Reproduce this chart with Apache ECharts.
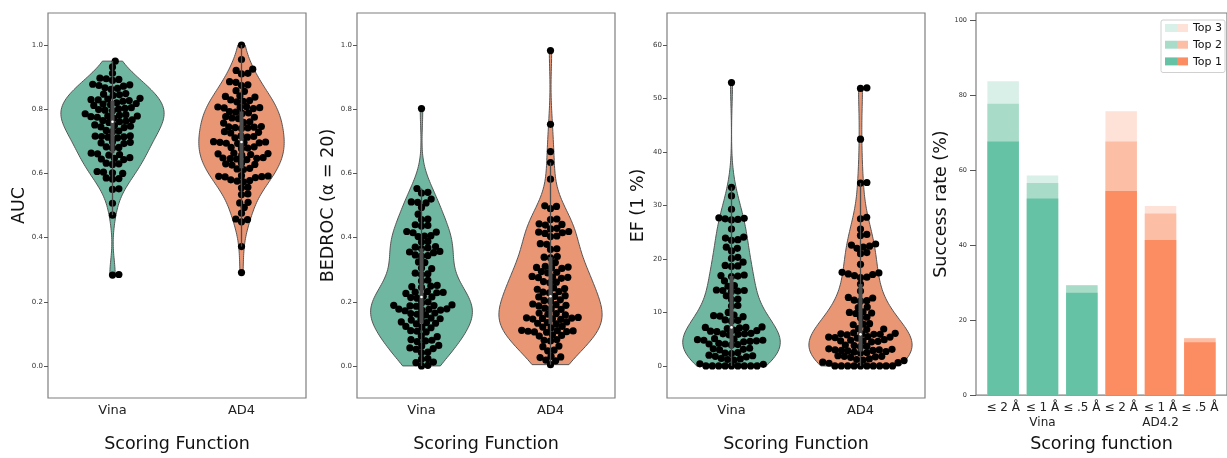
<!DOCTYPE html>
<html>
<head>
    <meta charset="UTF-8">
    <script src="https://cdn.jsdelivr.net/npm/echarts@6.0.0/dist/echarts.min.js"></script>
    <title>Scoring functions</title>
    <style>
        html, body { margin: 0; padding: 0; background: #fff; }
        #chart { width: 1227px; height: 458px; }
    </style>
</head>
<body>
<div id="chart"></div>
<script>
    // --- data ---
    const violinCats = ['Vina', 'AD4'];

    const aucVina = [0.950, 0.932, 0.912, 0.895, 0.893, 0.890, 0.897, 0.876, 0.874, 0.878, 0.872,
        0.865, 0.862, 0.867, 0.847, 0.845, 0.849, 0.843, 0.832, 0.829, 0.834, 0.827, 0.830, 0.825,
        0.818, 0.816, 0.820, 0.814, 0.812, 0.801, 0.799, 0.803, 0.797, 0.805, 0.795,
        0.783, 0.779, 0.777, 0.781, 0.775, 0.779, 0.786, 0.772, 0.763, 0.761, 0.765, 0.759, 0.767,
        0.747, 0.745, 0.749, 0.743, 0.751, 0.732, 0.730, 0.734, 0.715, 0.713, 0.717, 0.711, 0.716, 0.714,
        0.697, 0.695, 0.699, 0.693, 0.681, 0.679, 0.683, 0.661, 0.659, 0.663, 0.657,
        0.647, 0.645, 0.649, 0.643, 0.630, 0.628, 0.632,
        0.604, 0.602, 0.606, 0.600, 0.584, 0.582, 0.586,
        0.552, 0.550, 0.507, 0.470, 0.285, 0.283];
    const aucAd4 = [1.000, 0.955, 0.925, 0.921, 0.912, 0.910, 0.886, 0.884, 0.876, 0.874, 0.858, 0.856,
        0.840, 0.838, 0.842, 0.827, 0.825, 0.829, 0.823, 0.806, 0.804, 0.808, 0.802, 0.807, 0.805,
        0.791, 0.789, 0.793, 0.787, 0.775, 0.773, 0.777, 0.771, 0.759, 0.757, 0.761,
        0.744, 0.742, 0.746, 0.740, 0.745, 0.743, 0.728, 0.726, 0.730, 0.715, 0.713, 0.717, 0.711,
        0.697, 0.695, 0.699, 0.693, 0.698, 0.696, 0.694, 0.681, 0.679, 0.683, 0.677,
        0.661, 0.659, 0.663, 0.657, 0.662, 0.647, 0.645, 0.649, 0.643, 0.646, 0.648,
        0.630, 0.628, 0.632, 0.626, 0.614, 0.612, 0.616, 0.591, 0.589, 0.593, 0.587, 0.590, 0.592,
        0.578, 0.576, 0.580, 0.574, 0.557, 0.555, 0.536, 0.534, 0.510, 0.508, 0.494, 0.476,
        0.458, 0.456, 0.449, 0.372, 0.291];

    const bedrocVina = [0.802, 0.553, 0.541, 0.539, 0.520, 0.510, 0.508, 0.511, 0.494,
        0.473, 0.458, 0.456, 0.438, 0.436, 0.440, 0.417, 0.415, 0.419, 0.405, 0.403, 0.406,
        0.388, 0.386, 0.370, 0.368, 0.372, 0.366, 0.355, 0.353, 0.357, 0.344, 0.342, 0.346,
        0.324, 0.322, 0.305, 0.303, 0.287, 0.285, 0.289, 0.267, 0.265,
        0.249, 0.247, 0.251, 0.245, 0.230, 0.228, 0.232, 0.226, 0.229, 0.215, 0.213, 0.217, 0.211,
        0.199, 0.197, 0.189, 0.187, 0.186, 0.190, 0.188, 0.176, 0.174, 0.178, 0.172, 0.175, 0.177,
        0.163, 0.161, 0.165, 0.159, 0.147, 0.145, 0.149, 0.143, 0.135, 0.133, 0.137, 0.131,
        0.121, 0.119, 0.123, 0.108, 0.106, 0.110, 0.093, 0.091, 0.080, 0.078, 0.082, 0.076,
        0.064, 0.062, 0.054, 0.052, 0.056, 0.043, 0.041, 0.023, 0.021, 0.012, 0.010, 0.002, 0.000];
    const bedrocAd4 = [0.983, 0.753, 0.668, 0.634, 0.582, 0.499, 0.497, 0.490, 0.458, 0.456,
        0.443, 0.441, 0.439, 0.429, 0.427, 0.417, 0.415, 0.419, 0.413, 0.405, 0.403,
        0.381, 0.379, 0.365, 0.363, 0.339, 0.337, 0.341, 0.322, 0.308, 0.306, 0.310, 0.304, 0.307,
        0.292, 0.290, 0.294, 0.277, 0.275, 0.279, 0.273, 0.276, 0.261, 0.259, 0.263,
        0.241, 0.239, 0.243, 0.230, 0.228, 0.232, 0.217, 0.215, 0.219, 0.204, 0.202, 0.206,
        0.191, 0.189, 0.193, 0.187, 0.178, 0.176, 0.180, 0.163, 0.161, 0.165, 0.159,
        0.149, 0.147, 0.151, 0.145, 0.148, 0.150, 0.146, 0.135, 0.133, 0.137, 0.131,
        0.121, 0.119, 0.123, 0.109, 0.107, 0.111, 0.105, 0.108, 0.110, 0.106,
        0.095, 0.093, 0.097, 0.080, 0.078, 0.082, 0.062, 0.060, 0.049, 0.047,
        0.028, 0.026, 0.030, 0.018, 0.016, 0.004];

    const efVina = [53.0, 33.4, 31.8, 29.3, 27.5, 27.3, 27.6, 27.7, 27.4, 25.6,
        24.1, 23.9, 23.6, 23.5, 22.2, 22.0, 21.5, 20.3, 20.1, 19.4, 18.7, 18.6, 18.8,
        16.9, 16.8, 17.0, 16.7, 15.9, 15.0, 14.9, 14.1, 14.0, 14.2, 13.9, 14.1,
        13.1, 12.5, 12.4, 11.3, 11.2, 10.0, 9.4, 9.3, 9.5, 9.2, 8.5, 8.4, 8.6,
        7.2, 7.1, 7.3, 7.0, 7.2, 6.6, 6.5, 6.7, 6.4, 6.0, 5.9, 6.1, 5.8, 6.0,
        5.0, 4.9, 5.1, 4.8, 4.7, 4.6, 4.8, 4.5, 4.1, 4.0, 4.2, 3.9, 4.1,
        3.2, 3.1, 3.3, 3.0, 2.4, 2.3, 2.5, 1.9, 1.8, 2.0, 1.7, 1.3, 1.2, 1.4, 1.1,
        0.4, 0.3, 0, 0, 0, 0, 0, 0, 0, 0, 0];
    const efAd4 = [52.0, 51.9, 42.4, 34.3, 34.2, 27.8, 27.5, 25.6, 24.6, 24.4,
        22.8, 22.6, 22.4, 22.2, 22.0, 21.2, 21.0, 19.0,
        17.5, 17.4, 17.2, 17.1, 16.9, 16.6, 16.5, 15.3, 14.0, 12.8, 12.7, 12.2, 12.1, 12.3,
        11.0, 10.9, 10.0, 9.9, 10.1, 9.8, 9.1, 9.0, 7.8, 7.7, 7.9, 6.9, 6.8, 7.0,
        6.0, 5.9, 6.1, 5.8, 6.0, 6.2, 5.9, 5.4, 5.3, 5.5, 5.2, 5.4,
        4.7, 4.6, 4.8, 4.5, 4.7, 4.9, 3.8, 3.7, 3.9, 3.6,
        3.0, 2.9, 3.1, 2.8, 3.0, 3.2, 2.9, 2.6, 2.5, 2.7, 2.4,
        1.8, 1.7, 1.9, 1.6, 1.8, 1.2, 1.1, 1.3, 1.0, 0.6, 0.5, 0.7,
        0, 0, 0, 0, 0, 0, 0, 0, 0, 0];

    const unitTicks = [0, 0.2, 0.4, 0.6, 0.8, 1.0];
    const efTicks = [0, 10, 20, 30, 40, 50, 60];
    const rateTicks = [0, 20, 40, 60, 80, 100];

    const barCats = ['≤ 2 Å', '≤ 1 Å', '≤ .5 Å', '≤ 2 Å', '≤ 1 Å', '≤ .5 Å'];
    const barGroups = ['Vina', 'AD4.2'];
    const top1 = [67.7, 52.5, 27.3, 54.5, 41.4, 14.1];
    const top2 = [77.8, 56.6, 29.3, 67.7, 48.5, 15.2];
    const top3 = [83.8, 58.6, 29.3, 75.8, 50.5, 15.2];
    const topNames = ['Top 3', 'Top 2', 'Top 1'];

    // --- styling ---
    const violinColors = ['#70b7a2', '#e99675'];
    const barColors = {
        green: ['#d9f0e8', '#a8dcc9', '#66c2a5'],
        orange: ['#fee2d8', '#fdbea6', '#fc8d62']
    };
    const frame = '#7f7f7f';
    const font = 'DejaVu Sans';

    const panels = [
        { name: 'AUC', sets: [aucVina, aucAd4], ticks: unitTicks, min: -0.1, max: 1.1, left: 48, dec: 1 },
        { name: 'BEDROC (α = 20)', sets: [bedrocVina, bedrocAd4], ticks: unitTicks, min: -0.1, max: 1.1, left: 357, dec: 1 },
        { name: 'EF (1 %)', sets: [efVina, efAd4], ticks: efTicks, min: -6, max: 66, left: 667, dec: 0 }
    ];

    function kde(vals, n) {
        const m = vals.length;
        const mean = vals.reduce((a, b) => a + b, 0) / m;
        const sd = Math.sqrt(vals.reduce((a, v) => a + (v - mean) * (v - mean), 0) / (m - 1));
        const bw = sd * Math.pow(m, -0.2);
        const lo = Math.min(...vals), hi = Math.max(...vals);
        const ys = [], ds = [];
        for (let k = 0; k <= n; k++) {
            const y = lo + (hi - lo) * k / n;
            let s = 0;
            for (const v of vals) s += Math.exp(-0.5 * ((y - v) / bw) ** 2);
            ys.push(y);
            ds.push(s / (m * bw * Math.sqrt(2 * Math.PI)));
        }
        return { ys, ds };
    }

    function quart(sorted, p) {
        const i = (sorted.length - 1) * p, f = Math.floor(i);
        return sorted[f] + (sorted[Math.min(f + 1, sorted.length - 1)] - sorted[f]) * (i - f);
    }

    function boxStats(vals) {
        const s = vals.slice().sort((a, b) => a - b);
        const q1 = quart(s, 0.25), med = quart(s, 0.5), q3 = quart(s, 0.75);
        const iqr = q3 - q1;
        const lo = s.find(v => v >= q1 - 1.5 * iqr);
        const hi = s.filter(v => v <= q3 + 1.5 * iqr).pop();
        return [lo, q1, med, q3, hi];
    }

    // beeswarm in pixel space, like seaborn's swarmplot
    function swarm(vals, pxPerY, d) {
        const order = vals.map((v, i) => i).sort((a, b) => vals[a] - vals[b]);
        const placed = [];
        const out = new Array(vals.length);
        order.forEach(i => {
            const y = vals[i] * pxPerY;
            const near = placed.filter(p => Math.abs(p.y - y) < d);
            const cands = [0];
            near.forEach(p => {
                const dx = Math.sqrt(d * d - (p.y - y) ** 2);
                cands.push(p.x + dx, p.x - dx);
            });
            cands.sort((a, b) => Math.abs(a) - Math.abs(b));
            const x = cands.find(c => near.every(p => (p.x - c) ** 2 + (p.y - y) ** 2 >= d * d - 1e-6));
            placed.push({ x, y });
            out[i] = x;
        });
        return out;
    }

    // violin shapes, scale='area': one max density per panel
    const shapes = panels.map(p => {
        const ks = p.sets.map(s => kde(s, 120));
        const top = Math.max(...ks.map(k => Math.max(...k.ds)));
        return ks.map(k => ({ ys: k.ys, ws: k.ds.map(d => 0.4 * d / top) }));
    });

    const grids = [], xAxes = [], yAxes = [];
    panels.forEach((p, i) => {
        grids.push({ left: p.left, top: 13, width: 258, height: 386, show: true, borderColor: frame, borderWidth: 1.2, backgroundColor: '#fff' });
        xAxes.push({
            type: 'value', gridIndex: i, min: -0.5, max: 1.5,
            name: 'Scoring Function', nameLocation: 'middle', nameGap: 37,
            nameTextStyle: { fontFamily: font, fontSize: 17.5, color: '#111' },
            axisLine: { show: false, onZero: false }, axisTick: { show: false }, splitLine: { show: false },
            axisLabel: { customValues: [0, 1], formatter: v => violinCats[v], fontFamily: font, fontSize: 13, color: '#222', margin: 6 }
        });
        yAxes.push({
            type: 'value', gridIndex: i, min: p.min, max: p.max,
            name: p.name, nameLocation: 'middle', nameGap: 20,
            nameTextStyle: { fontFamily: font, fontSize: 17.5, color: '#111' },
            axisLine: { show: false, onZero: false }, splitLine: { show: false },
            axisTick: { show: true, customValues: p.ticks, length: 4, lineStyle: { color: '#555', width: 1 } },
            axisLabel: { customValues: p.ticks, formatter: v => v.toFixed(p.dec), fontFamily: font, fontSize: 7, color: '#333', margin: 5 }
        });
    });

    // success-rate bars
    grids.push({ left: 976, top: 13, right: -7, height: 386, show: true, borderColor: frame, borderWidth: 1.2 });
    xAxes.push({
        type: 'value', gridIndex: 3, min: -0.69, max: 5.69,
        name: 'Scoring function', nameLocation: 'middle', nameGap: 33,
        nameTextStyle: { fontFamily: font, fontSize: 17.5, color: '#111' },
        axisLine: { show: false, onZero: false }, axisTick: { show: false }, splitLine: { show: false },
        axisLabel: {
            customValues: [0, 1, 2, 3, 4, 5], hideOverlap: false,
            formatter: v => barCats[v] + (v === 1 ? '\n' + barGroups[0] : v === 4 ? '\n' + barGroups[1] : ''),
            fontFamily: font, fontSize: 12, lineHeight: 15, color: '#222', margin: 5
        }
    });
    yAxes.push({
        type: 'value', gridIndex: 3, min: 0, max: 102,
        name: 'Success rate (%)', nameLocation: 'middle', nameGap: 22,
        nameTextStyle: { fontFamily: font, fontSize: 17.5, color: '#111' },
        axisLine: { show: false, onZero: false }, splitLine: { show: false },
        axisTick: { show: true, customValues: rateTicks, length: 6, lineStyle: { color: '#555', width: 1 } },
        axisLabel: { customValues: rateTicks, fontFamily: font, fontSize: 6.5, color: '#333', margin: 9 }
    });

    const chart = echarts.init(document.getElementById('chart'));
    chart.setOption({ animation: false, backgroundColor: '#fff', grid: grids, xAxis: xAxes, yAxis: yAxes });

    const series = [];
    panels.forEach((p, i) => {
        const px0 = chart.convertToPixel({ gridIndex: i }, [0, 0]);
        const px1 = chart.convertToPixel({ gridIndex: i }, [1, 1]);
        const pxPerX = Math.abs(px1[0] - px0[0]);
        const pxPerY = Math.abs(px1[1] - px0[1]);

        series.push({
            type: 'custom', xAxisIndex: i, yAxisIndex: i, z: 1, silent: true,
            data: p.sets.map((s, c) => [c, Math.min(...s)]),
            renderItem: (params, api) => {
                const c = api.value(0);
                const sh = shapes[i][c];
                const right = sh.ys.map((y, k) => api.coord([c + sh.ws[k], y]));
                const left = sh.ys.map((y, k) => api.coord([c - sh.ws[k], y])).reverse();
                return {
                    type: 'polygon', shape: { points: right.concat(left) },
                    style: { fill: violinColors[c], stroke: '#555', lineWidth: 1 }
                };
            }
        });

        const pts = [];
        p.sets.forEach((s, c) => {
            const off = swarm(s, pxPerY, 6.4);
            s.forEach((v, k) => pts.push([c + off[k] / pxPerX, v]));
        });
        series.push({
            type: 'scatter', xAxisIndex: i, yAxisIndex: i, z: 2, silent: true,
            symbolSize: 7.2, itemStyle: { color: '#000', opacity: 1, borderWidth: 0 }, data: pts
        });

        series.push({
            type: 'custom', xAxisIndex: i, yAxisIndex: i, z: 3, silent: true,
            data: p.sets.map((s, c) => [c].concat(boxStats(s))),
            renderItem: (params, api) => {
                const c = api.value(0);
                const lo = api.coord([c, api.value(1)]), q1 = api.coord([c, api.value(2)]);
                const md = api.coord([c, api.value(3)]), q3 = api.coord([c, api.value(4)]);
                const hi = api.coord([c, api.value(5)]);
                return {
                    type: 'group', children: [
                        { type: 'line', shape: { x1: lo[0], y1: lo[1], x2: hi[0], y2: hi[1] }, style: { stroke: '#4d4d4d', lineWidth: 1.3 } },
                        { type: 'line', shape: { x1: q1[0], y1: q1[1], x2: q3[0], y2: q3[1] }, style: { stroke: '#4d4d4d', lineWidth: 4 } },
                        { type: 'circle', shape: { cx: md[0], cy: md[1], r: 1.3 }, style: { fill: '#fff' } }
                    ]
                };
            }
        });
    });

    const b0 = chart.convertToPixel({ gridIndex: 3 }, [0, 0]);
    const b1 = chart.convertToPixel({ gridIndex: 3 }, [0.8, 0]);
    const barW = Math.abs(b1[0] - b0[0]);
    [top3, top2, top1].forEach((vals, level) => {
        series.push({
            type: 'bar', name: topNames[level], xAxisIndex: 3, yAxisIndex: 3, silent: true,
            barWidth: barW, barGap: '-100%',
            data: vals.map((v, k) => ({ value: [k, v], itemStyle: { color: k < 3 ? barColors.green[level] : barColors.orange[level] } }))
        });
    });

    // legend with two-colour swatches
    const legend = [
        { type: 'rect', z: 10, shape: { x: 1161, y: 20, width: 64, height: 52.5, r: 2 }, style: { fill: '#fff', stroke: '#d0d0d0', lineWidth: 1 } }
    ];
    topNames.forEach((t, level) => {
        const y = 24 + level * 16.7;
        legend.push(
            { type: 'rect', z: 11, shape: { x: 1165, y: y, width: 12, height: 8 }, style: { fill: barColors.green[level] } },
            { type: 'rect', z: 11, shape: { x: 1177, y: y, width: 11, height: 8 }, style: { fill: barColors.orange[level] } },
            { type: 'text', z: 11, x: 1193, y: y + 4.5, style: { text: t, fontFamily: font, fontSize: 11, fill: '#111', verticalAlign: 'middle' } }
        );
    });

    chart.setOption({ series, graphic: legend });
</script>
</body>
</html>
